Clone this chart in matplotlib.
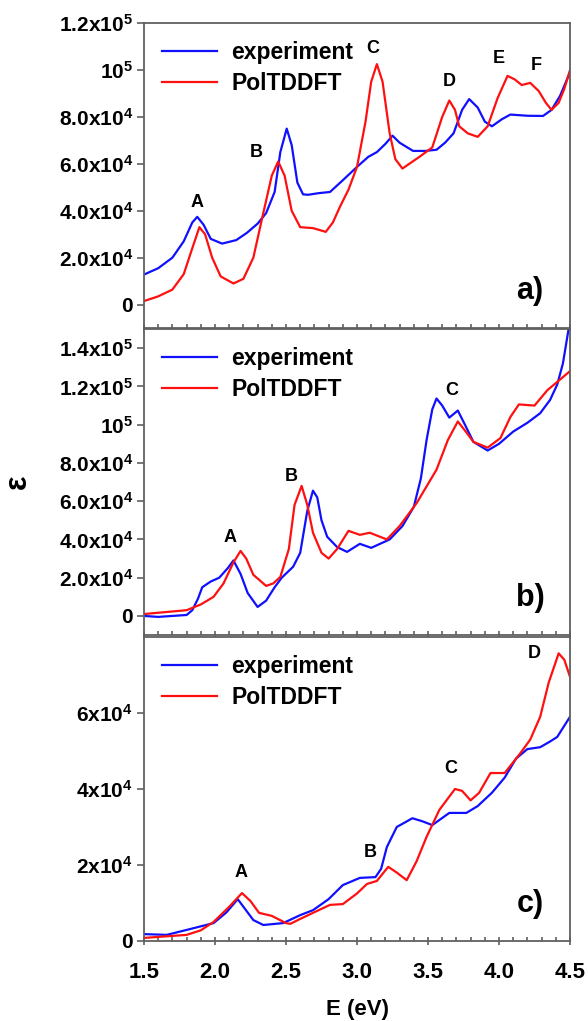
import matplotlib
matplotlib.use("Agg")
import matplotlib.pyplot as plt
import numpy as np
from matplotlib.ticker import MultipleLocator, FixedLocator

plt.rcParams['font.family'] = ['Liberation Sans', 'DejaVu Sans']
plt.rcParams['font.weight'] = 'bold'
plt.rcParams['mathtext.fontset'] = 'custom'
plt.rcParams['mathtext.rm'] = 'Liberation Sans:bold'
plt.rcParams['mathtext.it'] = 'Liberation Sans:bold'
plt.rcParams['mathtext.bf'] = 'Liberation Sans:bold'

# ---------------- data (E in eV, epsilon in 1e3) ----------------
a_exp_E = [1.50, 1.60, 1.70, 1.78, 1.84, 1.875, 1.92, 1.97, 2.05, 2.15, 2.225, 2.30, 2.36, 2.42, 2.46,
           2.505, 2.54, 2.58, 2.62, 2.655, 2.73, 2.81, 2.90, 3.00, 3.08, 3.14, 3.20, 3.25, 3.30, 3.395,
           3.48, 3.56, 3.62, 3.68, 3.74, 3.79, 3.85, 3.90, 3.95, 4.02, 4.08, 4.20, 4.31, 4.37, 4.43, 4.50]
a_exp_v = [12.8, 15.5, 20, 27, 35, 37.4, 34, 28, 26, 27.5, 30.6, 34.5, 39, 48, 65,
           75, 68, 52, 47, 46.8, 47.5, 48, 53, 58.7, 63, 65, 68.5, 72, 69, 65.5,
           65.5, 66, 69, 73, 83, 87.6, 84, 78, 76, 79, 81, 80.5, 80.4, 83, 89, 99]
a_th_E = [1.50, 1.60, 1.70, 1.78, 1.84, 1.89, 1.93, 1.98, 2.04, 2.13, 2.20, 2.27, 2.34, 2.40, 2.445,
          2.49, 2.54, 2.60, 2.69, 2.78, 2.83, 2.88, 2.94, 3.00, 3.06, 3.10, 3.14, 3.18, 3.23, 3.27,
          3.32, 3.38, 3.44, 3.53, 3.60, 3.65, 3.69, 3.72, 3.78, 3.85, 3.92, 3.99, 4.06, 4.11, 4.16,
          4.22, 4.28, 4.33, 4.37, 4.42, 4.46, 4.50]
a_th_v = [1.5, 3.5, 6.4, 13, 24, 33, 30, 20, 12, 9, 11, 20, 39, 55, 61,
          55, 40, 33, 32.6, 31, 35, 41.7, 49, 58.7, 78, 95, 102.5, 95, 73, 62,
          58, 60.5, 63, 67, 80, 87, 83, 76, 73, 71.5, 76, 88, 97.5, 96, 93.6,
          94.5, 91, 86, 83, 86, 92, 100]

b_exp_E = [1.50, 1.60, 1.70, 1.80, 1.84, 1.88, 1.91, 1.97, 2.03, 2.09, 2.13, 2.18, 2.23, 2.30, 2.36, 2.42,
           2.47, 2.55, 2.60, 2.65, 2.69, 2.72, 2.75, 2.79, 2.86, 2.93, 3.02, 3.10, 3.23, 3.32, 3.40,
           3.45, 3.49, 3.53, 3.56, 3.60, 3.65, 3.71, 3.76, 3.82, 3.92, 4.00, 4.10, 4.20, 4.29, 4.36,
           4.41, 4.45, 4.49]
b_exp_v = [0, -0.5, 0, 0.5, 3, 9, 15, 18, 20, 25, 29, 22, 12, 4.7, 8, 15,
           20, 25.7, 33, 55, 65.5, 62, 50, 41.4, 36, 33.5, 37.7, 35.6, 40, 47, 57,
           72, 92, 108, 113.7, 110, 103.7, 107.4, 100, 91, 86.5, 90, 96.4, 101, 106, 113,
           121, 132, 150]
b_th_E = [1.50, 1.65, 1.80, 1.90, 1.99, 2.06, 2.13, 2.18, 2.22, 2.27, 2.36, 2.41, 2.46, 2.52, 2.56,
          2.61, 2.65, 2.69, 2.75, 2.80, 2.86, 2.94, 3.02, 3.09, 3.21, 3.30, 3.42, 3.56, 3.64, 3.71,
          3.77, 3.82, 3.92, 4.01, 4.08, 4.14, 4.25, 4.34, 4.42, 4.50]
b_th_v = [1, 2, 3, 6, 10, 17, 28, 34, 30, 21.5, 15.7, 17, 20.4, 35, 58,
          68, 58, 43.5, 33, 30, 35, 44.5, 42.4, 43.5, 40, 47, 59, 76.5, 92, 101.7,
          96, 91, 88, 93, 104, 110.6, 110, 118, 123, 128]

c_exp_E = [1.50, 1.66, 1.80, 1.99, 2.08, 2.16, 2.22, 2.27, 2.34, 2.48, 2.60, 2.69, 2.80, 2.90, 3.02,
           3.13, 3.17, 3.21, 3.28, 3.39, 3.46, 3.53, 3.65, 3.77, 3.85, 3.95, 4.04, 4.12, 4.20, 4.29,
           4.36, 4.41, 4.50]
c_exp_v = [1.8, 1.6, 2.9, 4.7, 7.5, 11, 8, 5.5, 4.2, 4.7, 6.8, 8.1, 11, 14.7, 16.6,
           16.8, 19, 24.7, 30, 32.3, 31.5, 30.5, 33.7, 33.7, 35.5, 39, 43, 48, 50.5, 51,
           52.5, 53.7, 59]
c_th_E = [1.50, 1.65, 1.80, 1.90, 1.99, 2.10, 2.19, 2.25, 2.31, 2.40, 2.50, 2.53, 2.60, 2.69, 2.81,
          2.90, 3.00, 3.07, 3.14, 3.22, 3.28, 3.35, 3.42, 3.49, 3.58, 3.69, 3.74, 3.80, 3.86, 3.94,
          4.04, 4.15, 4.22, 4.29, 4.35, 4.42, 4.46, 4.50]
c_th_v = [0.8, 1.2, 1.6, 2.8, 5, 9, 12.6, 10.5, 7.4, 6.6, 4.7, 4.5, 5.8, 7.4, 9.5,
          9.7, 12.5, 15, 15.8, 19.5, 18, 16, 21, 27.4, 34.5, 40, 39.5, 37, 39, 44.2,
          44.2, 49.4, 53, 59, 68, 75.7, 74, 69.5]

series_names = ["experiment", "PolTDDFT"]

a_peaks = ["A", "B", "C", "D", "E", "F"]
a_peak_E = [1.875, 2.29, 3.11, 3.65, 4.00, 4.26]
a_peak_v = [43.4, 64.7, 109, 95, 104.7, 102]
b_peaks = ["A", "B", "C"]
b_peak_E = [2.105, 2.54, 3.67]
b_peak_v = [40.9, 73, 118]
c_peaks = ["A", "B", "C", "D"]
c_peak_E = [2.18, 3.09, 3.66, 4.25]
c_peak_v = [18, 23.4, 45.5, 75.7]

a_yticks = [0, 20e3, 40e3, 60e3, 80e3, 100e3, 120e3]
a_ylabels = ["0", "2.0x10$^4$", "4.0x10$^4$", "6.0x10$^4$", "8.0x10$^4$", "10$^5$", "1.2x10$^5$"]
b_yticks = [0, 20e3, 40e3, 60e3, 80e3, 100e3, 120e3, 140e3]
b_ylabels = ["0", "2.0x10$^4$", "4.0x10$^4$", "6.0x10$^4$", "8.0x10$^4$", "10$^5$", "1.2x10$^5$", "1.4x10$^5$"]
c_yticks = [0, 20e3, 40e3, 60e3]
c_ylabels = ["0", "2x10$^4$", "4x10$^4$", "6x10$^4$"]
xticks = [1.5, 2.0, 2.5, 3.0, 3.5, 4.0, 4.5]
xticklabels = ["1.5", "2.0", "2.5", "3.0", "3.5", "4.0", "4.5"]

panels = [
    dict(label="a)", exp=(a_exp_E, a_exp_v), th=(a_th_E, a_th_v), peaks=(a_peaks, a_peak_E, a_peak_v),
         ylim=(-10e3, 120e3), yt=a_yticks, yl=a_ylabels, rect=[0.2449, 0.6787, 0.7245, 0.2987]),
    dict(label="b)", exp=(b_exp_E, b_exp_v), th=(b_th_E, b_th_v), peaks=(b_peaks, b_peak_E, b_peak_v),
         ylim=(-10e3, 150e3), yt=b_yticks, yl=b_ylabels, rect=[0.2449, 0.3780, 0.7245, 0.2997]),
    dict(label="c)", exp=(c_exp_E, c_exp_v), th=(c_th_E, c_th_v), peaks=(c_peaks, c_peak_E, c_peak_v),
         ylim=(0, 80e3), yt=c_yticks, yl=c_ylabels, rect=[0.2449, 0.0784, 0.7245, 0.2977]),
]

BLUE = "#1010ff"
RED = "#ff1010"
SPINE = "#606060"

fig = plt.figure(figsize=(5.88, 10.21), dpi=100)

for i, p in enumerate(panels):
    ax = fig.add_axes(p["rect"])
    ax.plot(p["exp"][0], np.array(p["exp"][1]) * 1e3, color=BLUE, lw=1.6, label=series_names[0])
    ax.plot(p["th"][0], np.array(p["th"][1]) * 1e3, color=RED, lw=1.6, label=series_names[1])
    ax.set_xlim(1.5, 4.5)
    ax.set_ylim(*p["ylim"])
    ax.set_yticks(p["yt"])
    ax.set_yticklabels(p["yl"], fontsize=15, fontweight='bold')
    ax.xaxis.set_major_locator(FixedLocator(xticks))
    ax.xaxis.set_minor_locator(MultipleLocator(0.1))
    if i == 2:
        ax.set_xticklabels(xticklabels, fontsize=16, fontweight='bold')
        ax.set_xlabel("E (eV)", fontsize=16, fontweight='bold', labelpad=12)
    else:
        ax.set_xticklabels([])
    ax.tick_params(axis='x', which='major', direction='inout', length=6, width=1.2, color=SPINE, pad=12)
    ax.tick_params(axis='x', which='minor', direction='in', length=3, width=1.2, color=SPINE)
    ax.tick_params(axis='y', which='major', direction='out', length=5, width=1.2, color=SPINE, pad=3)
    for s in ax.spines.values():
        s.set_color(SPINE)
        s.set_linewidth(1.3)
    names, pe, pv = p["peaks"]
    for n, e, v in zip(names, pe, pv):
        ax.text(e, v * 1e3, n, fontsize=13, fontweight='bold', ha='center', va='center')
    ax.text(0.906, 0.12, p["label"], transform=ax.transAxes, fontsize=22, fontweight='bold',
            ha='center', va='center')
    ax.legend(loc='upper left', bbox_to_anchor=(0.0, 1.0), frameon=False,
              handlelength=2.4, handletextpad=0.6, labelspacing=0.35, borderaxespad=0.4,
              prop={'weight': 'bold', 'size': 16.5})

fig.text(0.03, 1 - 482 / 1021, "ε", rotation=90, fontsize=22, fontweight='bold', ha='center', va='center')

fig.savefig("out.png", dpi=100)
